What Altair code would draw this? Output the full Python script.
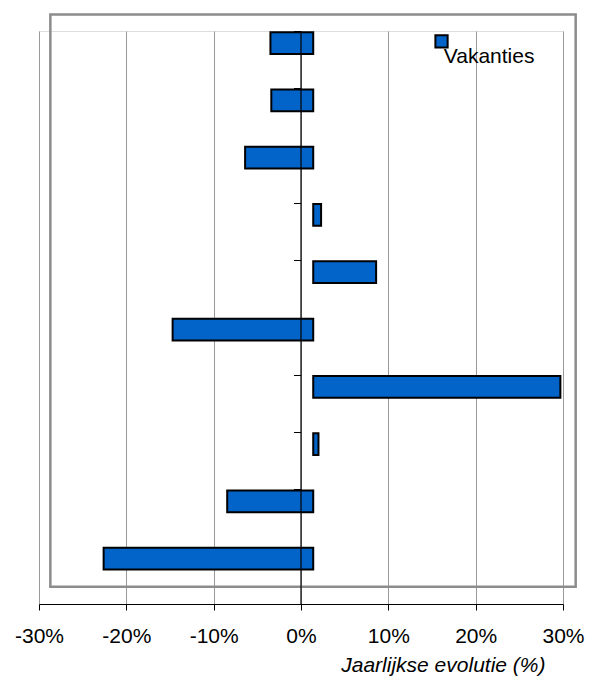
import altair as alt
import pandas as pd

# Data
rows = [0, 1, 2, 3, 4, 5, 6, 7, 8, 9]
base = 1.4  # bars start from this value (%)
ends = [-3.5, -3.4, -6.4, 2.3, 8.6, -14.7, 29.7, 2.0, -8.45, -22.6]
series = ["Vakanties"]
x_ticks = [-30, -20, -10, 0, 10, 20, 30]

BLUE = "#0263C8"
FONT = "Liberation Sans"

bars_df = pd.DataFrame({
    "row_top": [r + 0.02 for r in rows],
    "row_bottom": [r + 0.40 for r in rows],
    "start": [base] * len(rows),
    "end": ends,
    "series": series * len(rows),
})

# Decorative (Excel legend) frame and legend entry, in data units
frame_df = pd.DataFrame({"x": [-28.7], "x2": [31.45], "y": [-0.29], "y2": [9.70]})
legend_df = pd.DataFrame({"series": series, "sx": [16.09], "sy": [0.18],
                          "tx": [16.35], "ty": [0.564]})

x_scale = alt.Scale(domain=[-30, 30], nice=False, zero=False)
y_scale = alt.Scale(domain=[0, 10], reverse=True, nice=False, zero=False)

bars = alt.Chart(bars_df).mark_rect(stroke="black", strokeWidth=2, color=BLUE).encode(
    x=alt.X("start:Q", scale=x_scale,
            axis=alt.Axis(values=x_ticks, labelExpr="datum.value + '%'",
                          title="Jaarlijkse evolutie (%)",
                          titleFontStyle="italic", titleFontWeight="normal",
                          titleFontSize=21, titleFont=FONT, titleColor="black",
                          titleAlign="right", titleAnchor="end",
                          titleX=506, titleY=67, titleBaseline="alphabetic",
                          labelFont=FONT, labelFontSize=21, labelColor="black",
                          labelPadding=15, labelFlush=False,
                          tickSize=6, tickColor="black", domainColor="black",
                          domainWidth=1, tickWidth=1,
                          grid=True, gridColor="#999999", gridWidth=1)),
    x2="end:Q",
    y=alt.Y("row_top:Q", scale=y_scale,
            axis=alt.Axis(values=list(range(11)), labels=False, title=None,
                          grid=False, tickSize=7, tickColor="black",
                          domainColor="black", domainWidth=1.2,
                          offset=-261.5, zindex=1)),
    y2="row_bottom:Q",
)

frame = alt.Chart(frame_df).mark_rect(fill=None, stroke="#8c8c8c", strokeWidth=2.5).encode(
    x=alt.X("x:Q", scale=x_scale),
    x2="x2:Q",
    y=alt.Y("y:Q", scale=y_scale),
    y2="y2:Q",
)

legend_symbol = alt.Chart(legend_df).mark_point(
    shape="square", filled=True, fill=BLUE, stroke="black", strokeWidth=2,
    size=150, opacity=1,
).encode(
    x=alt.X("sx:Q", scale=x_scale),
    y=alt.Y("sy:Q", scale=y_scale),
)

legend_text = alt.Chart(legend_df).mark_text(
    align="left", baseline="alphabetic", font=FONT, fontSize=21, color="black",
).encode(
    x=alt.X("tx:Q", scale=x_scale),
    y=alt.Y("ty:Q", scale=y_scale),
    text="series:N",
)

chart = alt.layer(bars, frame, legend_symbol, legend_text).properties(
    width=524, height=573,
    autosize=alt.AutoSizeParams(type="none"),
    padding={"left": 31, "top": 23, "right": 24, "bottom": 76},
).configure_view(stroke="#707070", strokeWidth=1.5).configure(background="white")

chart.save("out.html", embed_options={"renderer": "svg", "actions": False})
